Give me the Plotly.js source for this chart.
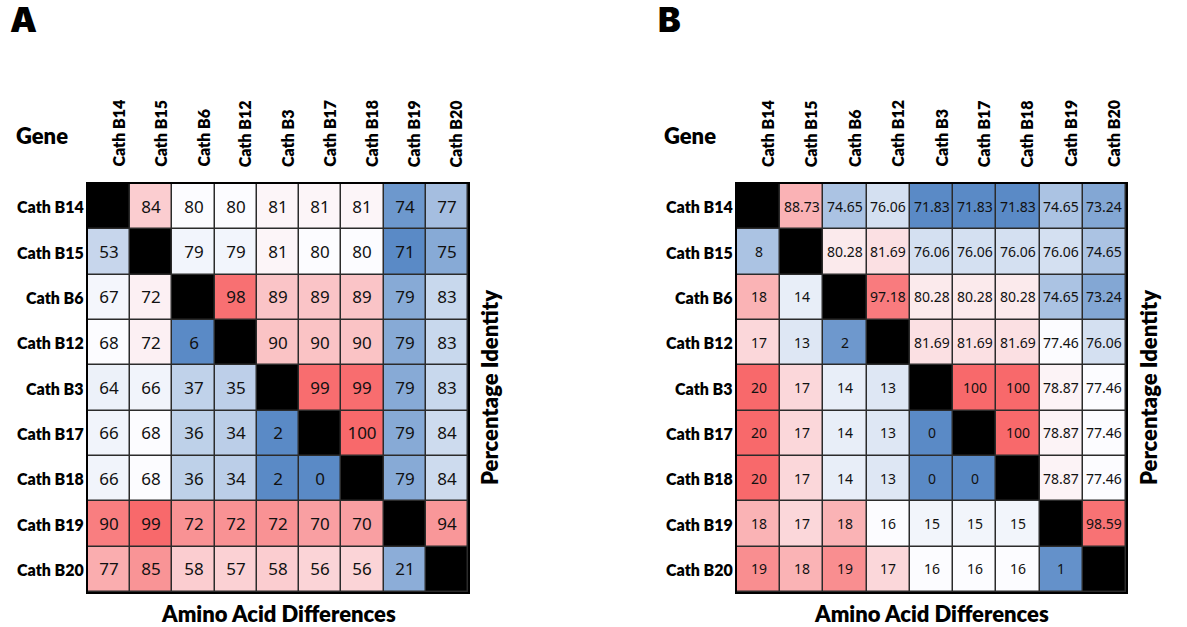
<!DOCTYPE html>
<html>
<head>
<meta charset="utf-8">
<script src="https://cdn.plot.ly/plotly-3.0.1.min.js"></script>
<style>
  html, body { margin: 0; padding: 0; background: #fff; }
  #chart { width: 1187px; height: 627px; }
</style>
</head>
<body>
<div id="chart"></div>
<script>
// Cathelicidin genes, in matrix order (rows top to bottom, columns left to right)
const genes = ['Cath B14', 'Cath B15', 'Cath B6', 'Cath B12', 'Cath B3', 'Cath B17', 'Cath B18', 'Cath B19', 'Cath B20'];

// Panel A – upper triangle: percentage identity, row by row (cells right of the diagonal)
const identityA = [
  [84, 80, 80, 81, 81, 81, 74, 77],
  [79, 79, 81, 80, 80, 71, 75],
  [98, 89, 89, 89, 79, 83],
  [90, 90, 90, 79, 83],
  [99, 99, 79, 83],
  [100, 79, 84],
  [79, 84],
  [94]
];
// Panel A – lower triangle: amino acid differences, row by row (cells left of the diagonal)
const diffA = [
  [53],
  [67, 72],
  [68, 72, 6],
  [64, 66, 37, 35],
  [66, 68, 36, 34, 2],
  [66, 68, 36, 34, 2, 0],
  [90, 99, 72, 72, 72, 70, 70],
  [77, 85, 58, 57, 58, 56, 56, 21]
];

// Panel B – upper triangle: percentage identity
const identityB = [
  [88.73, 74.65, 76.06, 71.83, 71.83, 71.83, 74.65, 73.24],
  [80.28, 81.69, 76.06, 76.06, 76.06, 76.06, 74.65],
  [97.18, 80.28, 80.28, 80.28, 74.65, 73.24],
  [81.69, 81.69, 81.69, 77.46, 76.06],
  [100, 100, 78.87, 77.46],
  [100, 78.87, 77.46],
  [78.87, 77.46],
  [98.59]
];
// Panel B – lower triangle: amino acid differences
const diffB = [
  [8],
  [18, 14],
  [17, 13, 2],
  [20, 17, 14, 13],
  [20, 17, 14, 13, 0],
  [20, 17, 14, 13, 0, 0],
  [18, 17, 18, 16, 15, 15, 15],
  [19, 18, 19, 17, 16, 16, 16, 1]
];

// ---- colour scale helpers (three-colour scale: blue - white - red) ----
const BLUE = [90, 138, 198], WHITE = [252, 252, 255], RED = [248, 105, 107];
function shade(s) {
  const end = s < 0 ? BLUE : RED, t = Math.min(1, Math.abs(s));
  const c = WHITE.map((w, i) => Math.round(w + (end[i] - w) * t));
  return 'rgb(' + c.join(',') + ')';
}
function median(vals) {
  const v = vals.slice().sort((a, b) => a - b), n = v.length;
  return n % 2 ? v[(n - 1) / 2] : (v[n / 2 - 1] + v[n / 2]) / 2;
}
// Expand a triangle (row lists) into a full 9x9 lookup
function fullMatrix(tri, part) {
  const m = genes.map(() => genes.map(() => null));
  tri.forEach((row, k) => row.forEach((v, j) => {
    if (part === 'upper') m[k][k + 1 + j] = v;
    else m[k + 1][j] = v;
  }));
  return m;
}
function flatVals(tri) { return [].concat(...tri); }
function excelAnchors(tri) {
  const v = flatVals(tri);
  return [[Math.min(...v), -1], [median(v), 0], [Math.max(...v), 1]];
}

const matA_up = fullMatrix(identityA, 'upper'), matA_lo = fullMatrix(diffA, 'lower');
const matB_up = fullMatrix(identityB, 'upper'), matB_lo = fullMatrix(diffB, 'lower');

// Formatting ranges: each block of cells gets its own scale anchors [value, shade]
const ranges = [
  // panel A, identity block B15..B18 columns
  { ax: 1, m: matA_up, rows: [0, 5], cols: [1, 6],
    anchors: [[79, -0.06], [80, 0], [81, 0.05], [84, 0.32], [89, 0.38], [90, 0.39], [98, 0.95], [100, 1]] },
  // panel A, identity column B19
  { ax: 1, m: matA_up, rows: [0, 6], cols: [7, 7],
    anchors: [[71, -1], [74, -0.88], [79, -0.72]] },
  // panel A, identity column B20
  { ax: 1, m: matA_up, rows: [0, 7], cols: [8, 8],
    anchors: [[75, -0.72], [77, -0.54], [83, -0.32], [84, -0.29], [88, 0], [94, 0.69]] },
  // panel A, differences rows B15..B18
  { ax: 1, m: matA_lo, rows: [1, 6], cols: [0, 5],
    anchors: [[0, -1], [6, -1], [34, -0.4], [37, -0.37], [53, -0.33], [64, -0.1], [66, -0.07], [67, -0.05], [68, 0], [72, 0.08]] },
  // panel A, differences row B19
  { ax: 1, m: matA_lo, rows: [7, 7], cols: [0, 6],
    anchors: [[70, 0.63], [72, 0.72], [90, 0.86], [99, 1]] },
  // panel A, differences row B20
  { ax: 1, m: matA_lo, rows: [8, 8], cols: [0, 7],
    anchors: [[21, -0.69], [40, 0], [56, 0.27], [58, 0.32], [77, 0.54], [85, 0.71]] },
  // panel B: min / median / max over each triangle
  { ax: 2, m: matB_up, rows: [0, 8], cols: [0, 8], anchors: excelAnchors(identityB) },
  { ax: 2, m: matB_lo, rows: [0, 8], cols: [0, 8], anchors: excelAnchors(diffB) }
];

const cellFont = { 1: 17, 2: 14 };
const traces = [];

ranges.forEach(r => {
  const z = genes.map(() => genes.map(() => null));
  const txt = genes.map(() => genes.map(() => ''));
  for (let i = r.rows[0]; i <= r.rows[1]; i++) {
    for (let j = r.cols[0]; j <= r.cols[1]; j++) {
      const v = r.m[i][j];
      if (v !== null) { z[i][j] = v; txt[i][j] = String(v); }
    }
  }
  const zmin = r.anchors[0][0], zmax = r.anchors[r.anchors.length - 1][0];
  const colorscale = r.anchors.map(([v, s]) => [(v - zmin) / (zmax - zmin), shade(s)]);
  traces.push({
    type: 'heatmap', x: genes, y: genes, z: z, text: txt,
    texttemplate: '%{text}',
    textfont: { family: 'Noto Sans, Arial, sans-serif', size: cellFont[r.ax], color: '#111' },
    colorscale: colorscale, zmin: zmin, zmax: zmax, showscale: false,
    xgap: 1.5, ygap: 1.5, hoverinfo: 'skip',
    xaxis: r.ax === 1 ? 'x' : 'x2', yaxis: r.ax === 1 ? 'y' : 'y2'
  });
});

// Diagonal (self comparison) cells in black
[1, 2].forEach(ax => {
  const z = genes.map((g, i) => genes.map((h, j) => (i === j ? 1 : null)));
  traces.push({
    type: 'heatmap', x: genes, y: genes, z: z,
    colorscale: [[0, '#000'], [1, '#000']], showscale: false,
    xgap: 1.5, ygap: 1.5, hoverinfo: 'skip',
    xaxis: ax === 1 ? 'x' : 'x2', yaxis: ax === 1 ? 'y' : 'y2'
  });
});

const W = 1187, H = 627;
const px = x => x / W, py = y => 1 - y / H;

const axisBase = {
  type: 'category', showgrid: false, zeroline: false, ticks: '', showticklabels: false,
  showline: true, mirror: true, linecolor: '#000', linewidth: 2, fixedrange: true
};
const xRange = [-0.5, genes.length - 0.5], yRange = [genes.length - 0.5, -0.5];

const labelFont = { family: 'Lato, Carlito, sans-serif', size: 16, color: '#000', weight: 800 };
const titleFont = { family: 'Lato, Carlito, sans-serif', size: 22, color: '#000', weight: 800 };
const panels = [
  { ax: 1, letter: 'A', letterX: 8, left: 88, right: 468, geneX: 42, pctX: 489 },
  { ax: 2, letter: 'B', letterX: 656, left: 737, right: 1126, geneX: 690, pctX: 1148 }
];
const annotations = [];
panels.forEach(p => {
  const xr = p.ax === 1 ? 'x' : 'x2', yr = p.ax === 1 ? 'y' : 'y2';
  annotations.push({ text: p.letter, xref: 'paper', yref: 'paper', x: px(p.letterX), y: py(-3),
    xanchor: 'left', yanchor: 'top', showarrow: false,
    font: { family: 'Inter, Roboto, sans-serif', size: 34, color: '#000', weight: 900 } });
  annotations.push({ text: 'Gene', xref: 'paper', yref: 'paper', x: px(p.geneX), y: py(136),
    xanchor: 'center', yanchor: 'middle', showarrow: false, font: titleFont });
  genes.forEach(g => {
    annotations.push({ text: g, xref: xr, yref: 'paper', x: g, y: py(169), xshift: 9,
      xanchor: 'center', yanchor: 'bottom', textangle: -90, showarrow: false, font: labelFont });
    annotations.push({ text: g, xref: 'paper', yref: yr, x: px(p.left - 2), y: g,
      xanchor: 'right', yanchor: 'middle', showarrow: false, font: labelFont });
  });
  annotations.push({ text: 'Amino Acid Differences', xref: 'paper', yref: 'paper',
    x: px((p.left + p.right) / 2), y: py(613), xanchor: 'center', yanchor: 'middle',
    showarrow: false, font: titleFont });
  annotations.push({ text: 'Percentage Identity', xref: 'paper', yref: 'paper',
    x: px(p.pctX), y: py(388), xanchor: 'center', yanchor: 'middle', textangle: -90,
    showarrow: false, font: titleFont });
});

const layout = {
  width: W, height: H, margin: { l: 0, r: 0, t: 0, b: 0 },
  paper_bgcolor: '#fff', plot_bgcolor: '#2b2b2b', showlegend: false,
  xaxis: Object.assign({}, axisBase, { domain: [px(88), px(468)], range: xRange, anchor: 'y' }),
  yaxis: Object.assign({}, axisBase, { domain: [py(592), py(184)], range: yRange, anchor: 'x' }),
  xaxis2: Object.assign({}, axisBase, { domain: [px(737), px(1126)], range: xRange, anchor: 'y2' }),
  yaxis2: Object.assign({}, axisBase, { domain: [py(592), py(184)], range: yRange, anchor: 'x2' }),
  annotations: annotations
};

Plotly.newPlot('chart', traces, layout, { staticPlot: true, displayModeBar: false });
</script>
</body>
</html>
